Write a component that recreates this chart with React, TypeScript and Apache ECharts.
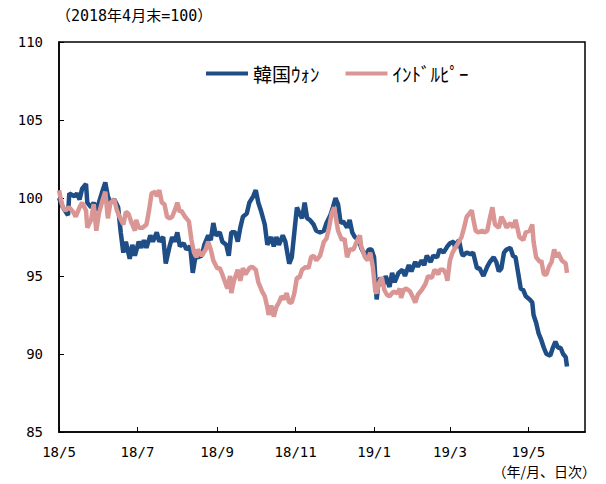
import React, { useEffect, useRef } from "react";
import * as echarts from "echarts";

// Index values (end of April 2018 = 100); days counted from 2018-05-01
const krwDays = [0,3,7,8,12,14,16,18,21,22,25,27,29,31,34,36,38,40,43,46,48,50,52,55,57,59,62,64,66,68,71,73,76,78,81,83,86,88,90,92,94,97,99,102,104,106,108,111,113,116,118,120,122,125,127,130,132,134,137,139,141,143,146,148,151,153,155,157,160,162,165,167,169,171,174,176,179,181,183,185,187,189,191,193,195,198,200,203,206,208,211,213,215,217,219,221,224,226,228,230,233,235,238,241,243,245,247,248,250,252,254,257,259,261,264,267,269,272,274,277,279,282,284,286,289,291,294,296,299,302,304,307,308,311,313,314,317,320,322,325,327,330,333,335,338,340,342,344,346,348,351,353,355,357,359,361,363,366,368,369,371,373,375,377,379,382,384,386,388,390,392,394,395];
const krwValues = [100.0,99.4,98.9,100.3,100.1,100.3,99.9,100.6,100.9,99.7,99.4,99.7,99.2,99.7,100.5,101.0,100.1,99.7,99.9,99.4,97.8,96.5,97.2,96.1,97.0,96.3,97.2,96.8,97.3,96.8,97.6,97.2,97.8,97.2,97.5,95.8,96.9,97.5,97.2,97.8,96.9,97.1,96.7,96.9,95.2,96.2,96.2,96.3,97.0,97.6,97.3,98.4,97.6,97.8,97.2,97.0,96.3,97.8,97.8,97.2,98.1,98.8,99.0,99.7,100.1,100.5,99.7,99.2,98.3,97.0,97.5,96.9,97.5,97.0,97.6,97.2,95.8,96.2,97.8,99.4,99.0,98.7,99.7,98.7,98.6,98.3,97.9,97.8,97.9,98.4,98.9,99.4,100.0,99.6,98.4,98.5,98.1,98.6,97.8,97.5,97.3,96.8,96.3,96.7,96.7,96.2,93.5,94.3,94.9,94.4,95.0,94.3,95.2,94.6,95.2,95.4,95.0,95.7,95.3,95.9,95.6,96.0,95.7,96.3,95.9,96.3,96.2,96.7,96.5,96.9,97.1,97.2,96.8,97.3,96.5,96.3,96.5,96.4,96.5,95.5,95.5,95.0,95.6,95.9,96.2,95.9,95.3,95.5,96.5,96.7,96.8,96.3,96.2,95.2,94.2,94.1,93.7,93.5,93.3,92.5,92.0,91.3,90.9,90.4,90.0,89.9,90.4,90.8,90.4,90.4,90.0,89.8,89.2];

const inrDays = [0,1,3,5,8,11,13,16,18,21,22,25,27,29,31,34,36,38,40,43,45,47,50,52,54,56,59,60,62,65,68,70,72,75,76,78,80,82,84,86,88,90,92,94,95,98,101,103,105,107,108,111,114,116,118,120,123,125,127,130,131,133,134,136,139,141,143,145,148,150,153,155,158,160,162,163,165,167,169,171,173,175,177,179,181,183,185,187,189,192,194,196,198,200,203,206,208,210,212,214,215,217,220,222,224,226,229,232,234,235,238,240,242,244,246,247,249,251,253,255,257,260,263,265,266,268,270,273,276,277,279,282,285,287,289,290,292,295,296,299,301,302,304,306,308,311,313,315,317,319,321,322,324,326,329,331,333,335,337,339,342,344,346,348,351,353,355,358,361,363,366,368,369,371,374,375,377,379,381,383,385,387,388,391,394,395];
const inrValues = [100.5,100.1,99.4,99.2,99.4,99.1,98.8,99.4,99.7,99.2,98.1,98.6,99.6,97.9,99.0,99.9,100.4,98.7,99.7,99.9,99.2,98.8,98.3,99.1,99.0,98.5,97.9,98.6,98.1,98.1,98.3,99.2,100.3,100.4,100.1,100.5,99.7,99.6,98.8,98.7,98.8,99.2,99.7,99.1,99.2,98.8,98.5,97.3,96.5,96.2,96.7,96.3,96.7,97.2,96.7,96.0,95.5,95.5,95.1,94.4,94.2,95.0,93.9,94.7,95.4,94.7,95.5,95.1,95.5,95.6,95.4,94.6,94.0,93.7,93.0,92.5,93.1,92.4,93.0,93.3,93.7,93.5,93.9,93.3,93.3,93.9,94.9,94.9,95.4,95.6,95.5,96.2,96.3,96.0,96.3,97.2,97.4,98.1,99.0,99.4,98.9,97.9,97.3,97.4,96.2,96.7,96.7,97.3,97.6,96.9,96.2,96.0,96.5,95.6,94.0,93.9,94.6,94.9,94.1,93.8,93.7,94.0,93.9,94.2,93.6,94.1,94.2,94.0,93.5,93.3,93.8,94.1,94.5,95.0,94.9,94.9,95.4,95.1,95.4,95.4,95.1,94.7,96.0,96.5,96.8,97.2,97.5,98.1,98.8,99.0,99.2,98.7,97.9,97.8,97.9,97.8,97.9,98.7,99.4,98.3,98.1,98.8,98.5,98.1,98.4,98.1,98.6,97.5,97.3,97.8,97.9,98.3,97.2,96.2,95.9,96.0,95.1,95.1,95.6,95.9,96.7,96.2,96.5,96.0,95.8,95.2];

const seriesNames = ["韓国ｳｫﾝ", "ｲﾝﾄﾞﾙﾋﾟｰ"];
const tickDates = ["2018-05-01", "2018-07-01", "2018-09-01", "2018-11-01", "2019-01-01", "2019-03-01", "2019-05-01"];
const axisStart = "2018-05-01";
const axisEnd = "2019-06-14";
const yMin = 85;
const yMax = 110;
const yStep = 5;
const titleText = "（2018年4月末=100）";
const unitText = "（年/月、日次）";

const DAY = 86400000;
const ts = (s: string) => {
  const [y, m, d] = s.split("-").map(Number);
  return Date.UTC(y, m - 1, d);
};
const BASE = ts(axisStart);
const toPairs = (days: number[], vals: number[]) => days.map((d, i) => [BASE + d * DAY, vals[i]]);

const numFont = "'DejaVu Sans Mono', 'Noto Sans CJK JP', monospace";
const cjkFont = "'Noto Sans CJK JP', sans-serif";

export default function App() {
  const ref = useRef<HTMLDivElement>(null);
  useEffect(() => {
    if (!ref.current) return;
    const chart = echarts.init(ref.current, undefined, { renderer: "svg" });
    const ticks = tickDates.map(ts);
    chart.setOption({
      animation: false,
      backgroundColor: "#fff",
      grid: { left: 59, right: 21, top: 42, bottom: 52, show: true, borderColor: "#000", borderWidth: 1.5, backgroundColor: "transparent" },
      legend: {
        data: seriesNames,
        left: 201,
        top: 59,
        icon: "rect",
        itemWidth: 42,
        itemHeight: 4,
        itemGap: 26,
        textStyle: { fontSize: 19, fontFamily: cjkFont, color: "#000" },
      },
      xAxis: {
        type: "value",
        min: ts(axisStart),
        max: ts(axisEnd),
        axisLine: { show: true, lineStyle: { color: "#000", width: 1.5 } },
        axisTick: { show: true, inside: true, length: 5, customValues: ticks, lineStyle: { color: "#000", width: 1 } },
        axisLabel: {
          customValues: ticks,
          fontSize: 14,
          fontFamily: numFont,
          color: "#000",
          margin: 13,
          formatter: (v: number) => {
            const d = new Date(v);
            return `${String(d.getUTCFullYear()).slice(2)}/${d.getUTCMonth() + 1}`;
          },
        },
        splitLine: { show: false },
      },
      yAxis: {
        type: "value",
        min: yMin,
        max: yMax,
        interval: yStep,
        axisLine: { show: true, lineStyle: { color: "#000", width: 1.5 } },
        axisTick: { show: true, inside: true, length: 5, lineStyle: { color: "#000", width: 1 } },
        axisLabel: { fontSize: 14, fontFamily: numFont, color: "#000", margin: 16 },
        splitLine: { show: false },
      },
      series: [
        {
          name: seriesNames[0],
          type: "line",
          data: toPairs(krwDays, krwValues),
          showSymbol: false,
          symbol: "none",
          color: "#1F4E86",
          lineStyle: { width: 4.5, color: "#1F4E86" },
        },
        {
          name: seriesNames[1],
          type: "line",
          data: toPairs(inrDays, inrValues),
          showSymbol: false,
          symbol: "none",
          color: "#DA9694",
          lineStyle: { width: 4.5, color: "#DA9694" },
        },
      ],
      graphic: [
        { type: "text", left: 56, top: 8, style: { text: titleText, fontSize: 15, fontFamily: numFont, fill: "#000" } },
        { type: "text", right: 10, top: 464, style: { text: unitText, fontSize: 14, fontFamily: cjkFont, fill: "#000" } },
      ],
    });
    return () => chart.dispose();
  }, []);
  return <div ref={ref} style={{ position: "absolute", left: 0, top: 0, width: 606, height: 484 }} />;
}
